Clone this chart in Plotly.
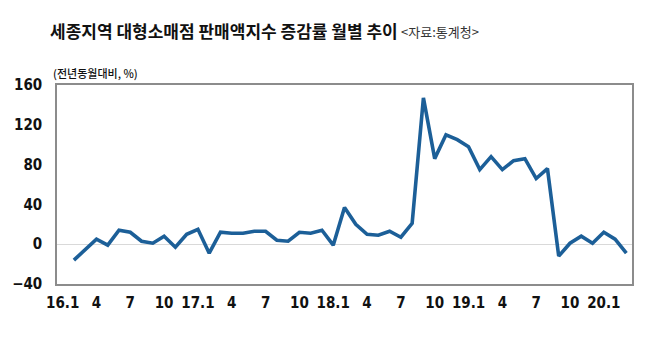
import plotly.graph_objects as go

# Month categories 2016.01 - 2020.03
years = [2016, 2017, 2018, 2019, 2020]
months = []
for y in years:
    for m in range(1, 13):
        if y == 2020 and m > 3:
            break
        months.append(f"{y}.{m:02d}")

# Year-on-year change of the large-store sales index (%)
yoy_change = [
    None, -16, -6, 5, -1, 14, 12, 3, 1, 8, -3, 10,          # 2016
    15, -9, 12, 11, 11, 13, 13, 4, 3, 12, 11, 14,           # 2017
    -1, 37, 20, 10, 9, 13, 7, 21, 147, 86, 110, 105,        # 2018
    98, 75, 88, 75, 84, 86, 66, 76, -12, 1, 8, 1,           # 2019
    12, 5, -9,                                              # 2020
]

# Axis labels: every third month, years shown as "yy.1"
tick_keys = months[::3]
tick_text = [f"{k[2:4]}.1" if k.endswith(".01") else str(int(k[5:])) for k in tick_keys]
y_ticks = [-40, 0, 40, 80, 120, 160]

title_text = "세종지역 대형소매점 판매액지수 증감률 월별 추이"
source_text = "<자료:통계청>"
unit_text = "(전년동월대비, %)"

fig = go.Figure()
fig.add_trace(go.Scatter(
    x=months, y=yoy_change, mode="lines",
    line=dict(color="#1c5f98", width=3.6),
    connectgaps=False, hoverinfo="skip",
))

tick_font = dict(family="Liberation Sans Narrow, DejaVu Sans Condensed, Arial Narrow, sans-serif",
                 size=15, color="#111111", weight="bold")

fig.update_layout(
    width=648, height=340,
    margin=dict(l=53, r=16, t=85, b=56),
    paper_bgcolor="white", plot_bgcolor="white",
    showlegend=False,
    xaxis=dict(
        type="category", categoryorder="array", categoryarray=months,
        range=[-0.5, len(months) - 0.5],
        tickmode="array", tickvals=tick_keys, ticktext=tick_text,
        tickfont=tick_font, showgrid=False, zeroline=False,
        showline=True, linecolor="#8c8c8c", linewidth=1.5, mirror=True,
        ticks="", ticklabelstandoff=4,
    ),
    yaxis=dict(
        range=[-40, 160], tickmode="array", tickvals=y_ticks,
        tickfont=tick_font, showgrid=False,
        zeroline=True, zerolinecolor="#d9d9d9", zerolinewidth=1,
        showline=True, linecolor="#8c8c8c", linewidth=1.5, mirror=True,
        ticks="", ticklabelstandoff=10,
    ),
    annotations=[
        dict(text=title_text, xref="paper", yref="paper", x=0, y=1,
             xanchor="left", yanchor="middle", xshift=-9, yshift=55,
             showarrow=False,
             font=dict(family="Noto Sans CJK KR", size=17, color="#111111", weight="bold")),
        dict(text=source_text, xref="paper", yref="paper", x=0, y=1,
             xanchor="left", yanchor="middle", xshift=342, yshift=54,
             showarrow=False,
             font=dict(family="Noto Sans CJK KR", size=13, color="#333333")),
        dict(text=unit_text, xref="paper", yref="paper", x=0, y=1,
             xanchor="left", yanchor="middle", xshift=-6, yshift=12,
             showarrow=False,
             font=dict(family="Noto Sans CJK KR", size=11, color="#111111", weight=500)),
    ],
)

fig.write_html("out.html")
